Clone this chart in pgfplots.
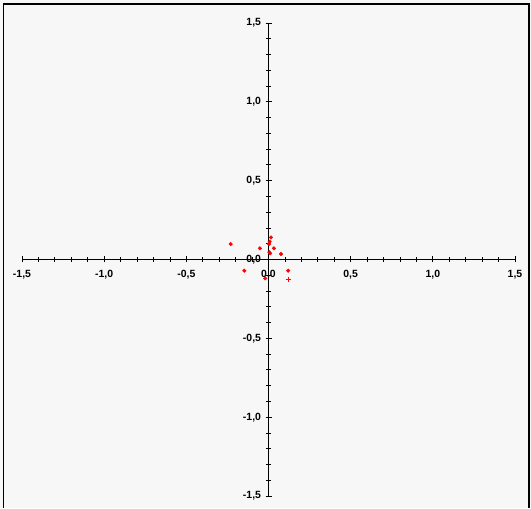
\documentclass[border=0pt]{standalone}
\usepackage{pgfplots}
\pgfplotsset{compat=1.18}
\usepackage{fontspec}
\setmainfont{Liberation Sans}
\begin{document}
\begin{tikzpicture}[x=1bp,y=1bp]
\fill[black!3] (0,0) rectangle (531,508);
\draw[line width=1.5bp] (3.5,0) -- (3.5,504) -- (529,504) -- (529,0);
\begin{axis}[at={(22bp,12bp)}, anchor=south west, scale only axis,
  width=493bp, height=473bp,
  xmin=-1.5, xmax=1.5, ymin=-1.5, ymax=1.5,
  axis lines=middle, axis line style={-, line width=1.2bp},
  xtick={-1.5,-1,...,1.5}, ytick={-1.5,-1,...,1.5},
  minor tick num=4, tick align=center,
  major tick length=6bp, minor tick length=5bp,
  tick style={black, line width=0.8bp},
  hide obscured x ticks=false, hide obscured y ticks=false,
  ticklabel style={font=\fontsize{10.5}{12}\selectfont\bfseries},
  xticklabel style={yshift=-4bp},
  yticklabel style={xshift=-1bp},
  /pgf/number format/assume math mode=true,
  /pgf/number format/use comma,
  /pgf/number format/fixed,
  /pgf/number format/fixed zerofill,
  /pgf/number format/precision=1,
  clip=false]
\addplot[only marks, mark=*, mark size=1.8bp, red, mark options={draw=red, fill=red}] coordinates {
(-0.23,0.098) (0.015,0.14) (0.007,0.113) (0.003,0.098) (0.033,0.071)
(-0.052,0.071) (0.005,0.046) (0.01,0.039) (0.076,0.035) (-0.147,-0.071)
(0.12,-0.071) (-0.02,-0.12)
};
\addplot[only marks, mark=+, mark size=2.5bp, red, line width=1bp] coordinates {(0.119,-0.124)};
\end{axis}
\end{tikzpicture}
\end{document}
